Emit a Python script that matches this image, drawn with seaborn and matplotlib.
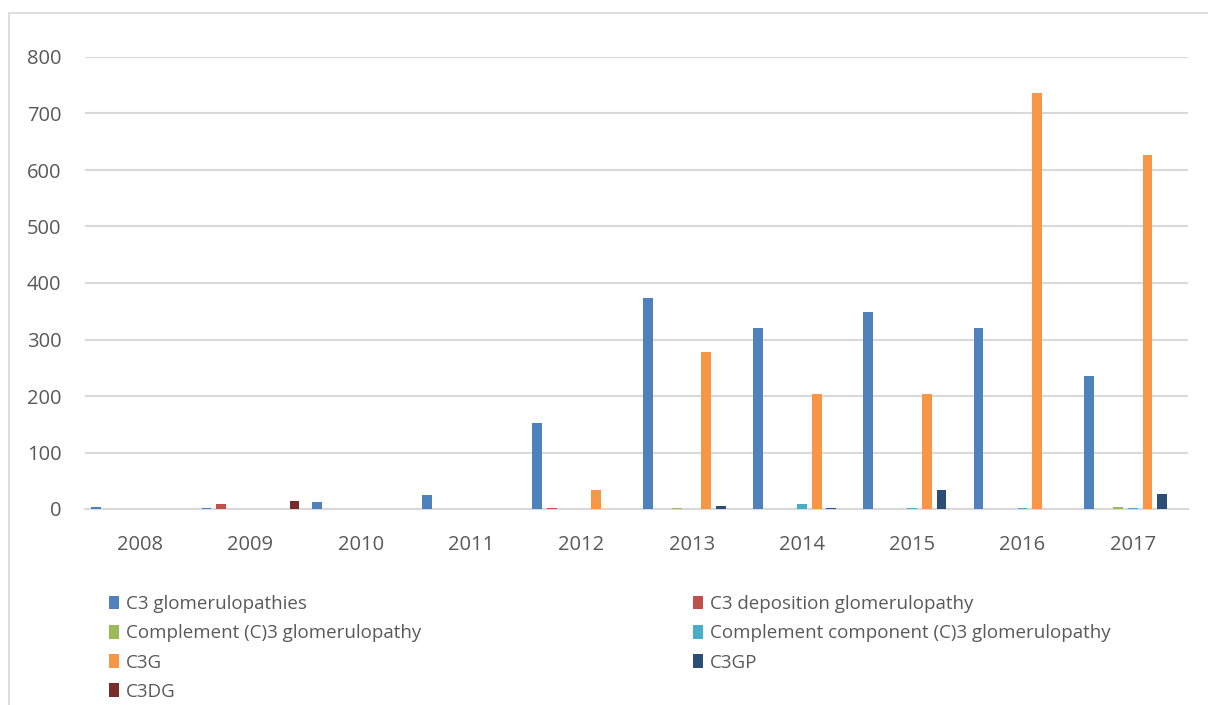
import matplotlib
matplotlib.use("Agg")
import matplotlib.pyplot as plt
import seaborn as sns
import pandas as pd
from matplotlib.patches import Patch, Rectangle

years = ["2008", "2009", "2010", "2011", "2012", "2013", "2014", "2015", "2016", "2017"]
series_names = [
    "C3 glomerulopathies",
    "C3 deposition glomerulopathy",
    "Complement (C)3 glomerulopathy",
    "Complement component (C)3 glomerulopathy",
    "C3G",
    "C3GP",
    "C3DG",
]
c3_glomerulopathies = [3, 1, 12, 25, 152, 373, 321, 348, 321, 235]
c3_deposition = [0, 9, 0, 0, 1, 0, 0, 0, 0, 0]
complement_c3 = [0, 0, 0, 0, 0, 2, 0, 0, 0, 3]
complement_component = [0, 0, 0, 0, 0, 0, 8, 1, 1, 1]
c3g = [0, 0, 0, 0, 33, 277, 203, 203, 736, 627]
c3gp = [0, 0, 0, 0, 0, 5, 1, 34, 0, 26]
c3dg = [0, 14, 0, 0, 0, 0, 0, 0, 0, 0]

colors = ["#4F81BD", "#C0504D", "#9BBB59", "#4BACC6", "#F79646", "#2C4D75", "#772C2A"]


def build_df():
    values = [c3_glomerulopathies, c3_deposition, complement_c3,
              complement_component, c3g, c3gp, c3dg]
    rows = []
    for name, vals in zip(series_names, values):
        for y, v in zip(years, vals):
            rows.append([y, name, v])
    return pd.DataFrame(rows, columns=["year", "series", "count"])


df = build_df()

sns.set_theme(style="white")
plt.rcParams["font.family"] = ["Open Sans", "DejaVu Sans"]

fig = plt.figure(figsize=(12.08, 7.05), dpi=100)
ax = fig.add_axes([85 / 1208, 1 - 509 / 705, (1188 - 85) / 1208, (509 - 57) / 705])

sns.barplot(data=df, x="year", y="count", hue="series", hue_order=series_names,
            order=years, palette=colors, saturation=1, width=0.93, gap=0.33,
            legend=False, ax=ax, edgecolor="none", linewidth=0, zorder=3)

ax.set_ylim(0, 800)
ax.set_xlim(-0.5, len(years) - 0.5)
ax.set_yticks(range(0, 801, 100))
ax.yaxis.grid(True, color="#D9D9D9", linewidth=1.5, zorder=0)
ax.set_axisbelow(True)
for s in ["top", "right", "left"]:
    ax.spines[s].set_visible(False)
ax.spines["bottom"].set_color("#D9D9D9")
ax.spines["bottom"].set_linewidth(1.5)
ax.tick_params(axis="both", length=0, labelsize=14.5, labelcolor="#595959")
ax.tick_params(axis="y", pad=17)
ax.tick_params(axis="x", pad=19)
ax.set_xlabel("")
ax.set_ylabel("")

# outer chart border
fig.patches.append(Rectangle((9 / 1208, -0.05), 1.2, 1 - 13 / 705 + 0.05,
                             transform=fig.transFigure, fill=False,
                             edgecolor="#D9D9D9", linewidth=1.2))

handles = [Patch(facecolor=c, edgecolor="none") for c in colors]
left_idx = [0, 2, 4, 6]
right_idx = [1, 3, 5]
common = dict(frameon=False, fontsize=13.5, handlelength=0.55, handleheight=0.75,
              handletextpad=0.35, labelspacing=0.6, borderaxespad=0, borderpad=0,
              labelcolor="#595959")
fig.legend([handles[i] for i in left_idx], [series_names[i] for i in left_idx],
           loc="upper left", bbox_to_anchor=(109 / 1208, 1 - 595 / 705), **common)
fig.legend([handles[i] for i in right_idx], [series_names[i] for i in right_idx],
           loc="upper left", bbox_to_anchor=(693 / 1208, 1 - 595 / 705), **common)

fig.savefig("out.png", dpi=100)
